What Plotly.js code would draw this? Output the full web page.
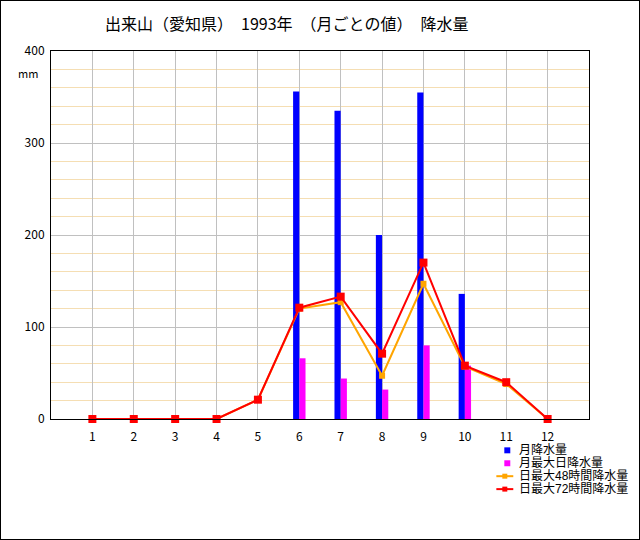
<!DOCTYPE html>
<html><head><meta charset="utf-8">
<script src="https://cdn.plot.ly/plotly-3.0.1.min.js"></script>
<style>
html,body{margin:0;padding:0;background:#fff;}
#frame{width:640px;height:540px;box-sizing:border-box;border:1px solid #000;position:relative;overflow:hidden;}
#chart{position:absolute;left:-1px;top:-1px;width:640px;height:540px;}
</style></head>
<body><div id="frame"><div id="chart"></div></div>
<script>
const months = [1,2,3,4,5,6,7,8,9,10,11,12];
const monthLabels = ['1','2','3','4','5','6','7','8','9','10','11','12'];
const monthlyPrecip = [null,null,null,null,null,356,335,200,355,136,null,null];
const maxDaily = [null,null,null,null,null,66,44,32,80,58,null,null];
const max48h = [0,0,0,0,21,120,127,47,147,57,38,0];
const max72h = [0,0,0,0,21,121,133,71,170,58,40,0];
const names = ['月降水量','月最大日降水量','日最大48時間降水量','日最大72時間降水量'];
const colors = ['#0000FF','#FF00FF','#FFA500','#FF0000'];

const font = "'Noto Sans CJK JP', 'DejaVu Sans', sans-serif";
const legendFont = "'Liberation Sans', 'Noto Sans CJK JP', sans-serif";
const traces = [
  {type:'bar', x:months, y:monthlyPrecip, name:names[0], marker:{color:colors[0]}, width:0.15, offset:-0.15},
  {type:'bar', x:months, y:maxDaily, name:names[1], marker:{color:colors[1]}, width:0.15, offset:0},
  {type:'scatter', mode:'lines+markers', x:months, y:max48h, name:names[2], cliponaxis:false, line:{color:colors[2], width:2}, marker:{symbol:'square', size:6, color:colors[2]}},
  {type:'scatter', mode:'lines+markers', x:months, y:max72h, name:names[3], cliponaxis:false, line:{color:colors[3], width:2}, marker:{symbol:'square', size:8, color:colors[3]}}
];

// plot area in pixels: x 50..590, y 50..420
const PX0 = 50, PW = 540, PY1 = 420, PH = 370;
const px = v => (v - PX0) / PW;
const py = v => (PY1 - v) / PH;

const shapes = [];
const annotations = [{text:'mm', xref:'paper', yref:'paper', x:px(15), y:py(62), showarrow:false, font:{size:11}}];
const rowY = [451.5, 464.5, 477.5, 490.5];
names.forEach((n, i) => {
  const yc = rowY[i];
  if (i < 2) {
    shapes.push({type:'rect', xref:'paper', yref:'paper', x0:px(505), x1:px(511), y0:py(yc-3), y1:py(yc+3), fillcolor:colors[i], line:{width:0}});
  } else {
    shapes.push({type:'line', xref:'paper', yref:'paper', x0:px(497), x1:px(514), y0:py(yc), y1:py(yc), line:{color:colors[i], width:2}});
    shapes.push({type:'rect', xref:'paper', yref:'paper', x0:px(503), x1:px(508), y0:py(yc-2.5), y1:py(yc+2.5), fillcolor:colors[i], line:{width:0}});
  }
  annotations.push({text:n, xref:'paper', yref:'paper', x:px(519), y:py(yc), xanchor:'left', yanchor:'middle', showarrow:false, borderpad:0, font:{size:12, family:legendFont}});
});

const layout = {
  width:640, height:540,
  margin:{l:51, r:51, t:51, b:121},
  paper_bgcolor:'rgba(0,0,0,0)', plot_bgcolor:'#fff',
  font:{family:font, size:12, color:'#000'},
  showlegend:false,
  barmode:'overlay',
  title:{text:'出来山（愛知県）　1993年　（月ごとの値）　降水量', x:0.448, xanchor:'center', y:0.955, yanchor:'middle', font:{size:16, family:font}},
  xaxis:{range:[0,13], tickvals:months, ticktext:monthLabels, showgrid:true, gridcolor:'#C0C0C0', gridwidth:1,
         showline:true, linecolor:'#000', linewidth:1, mirror:true, ticks:'', ticklabelstandoff:7, zeroline:false, fixedrange:true, tickfont:{size:12}},
  yaxis:{range:[0,400], dtick:100, tick0:0, showgrid:true, gridcolor:'#C0C0C0', gridwidth:1,
         minor:{dtick:20, showgrid:true, gridcolor:'#F5DEB3', gridwidth:1},
         showline:true, linecolor:'#000', linewidth:1, mirror:true, ticks:'', ticklabelstandoff:3, zeroline:false, fixedrange:true, tickfont:{size:12}},
  shapes: shapes,
  annotations: annotations
};
Plotly.newPlot('chart', traces, layout, {displayModeBar:false, staticPlot:true});
</script></body></html>
